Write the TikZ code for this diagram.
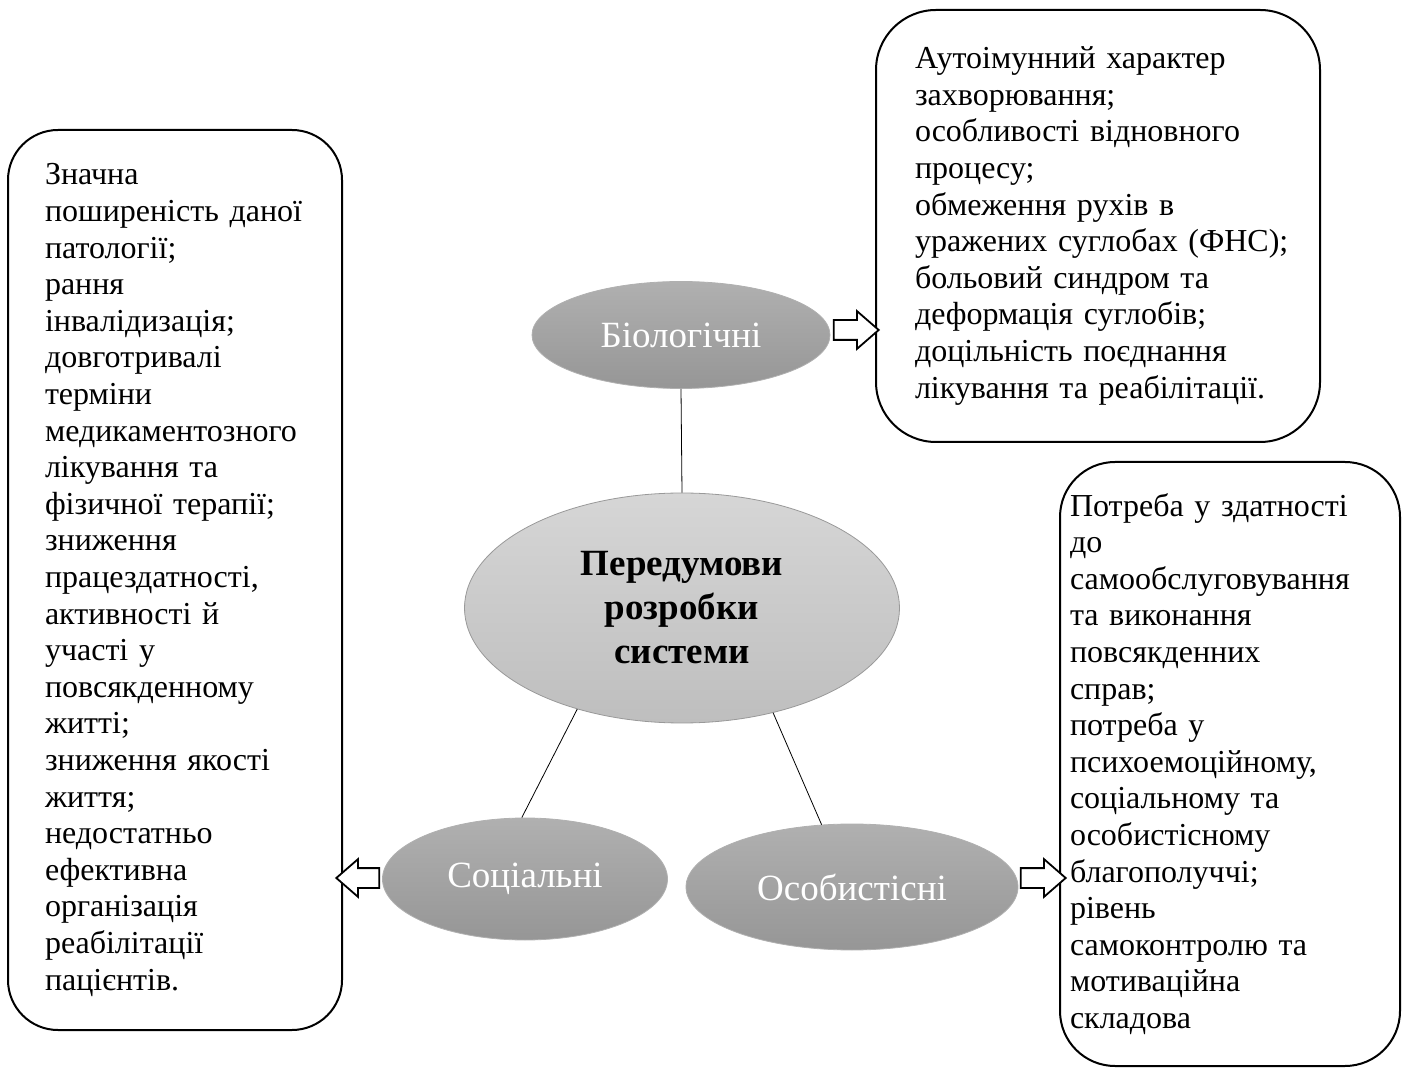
\documentclass[tikz,border=0pt]{standalone}
\usepackage{fontspec}
\setmainfont{Liberation Serif}
\usepackage{xcolor}
\definecolor{ovaltop}{HTML}{B0B0B0}
\definecolor{ovalbot}{HTML}{969696}
\definecolor{coretop}{HTML}{D6D6D6}
\definecolor{corebot}{HTML}{BEBEBE}
\usepackage{tikz}
\usetikzlibrary{shapes.geometric,shapes.arrows,positioning}

\begin{document}
\begin{tikzpicture}[
  x=0.5pt, y=-0.5pt,
  panel/.style={draw, line width=1pt, align=left, inner ysep=0pt,
                font=\fontsize{16}{18.3}\selectfont},
  oval/.style={ellipse, top color=ovaltop, bottom color=ovalbot, draw=ovaltop,
               text=white, font=\fontsize{18.5}{21}\selectfont, inner sep=0pt},
  core/.style={ellipse, top color=coretop, bottom color=corebot, draw=gray!80,
               align=center, font=\fontsize{18.5}{22}\selectfont\bfseries, inner sep=0pt},
  blockarr/.style={single arrow, draw, fill=white, line width=0.9pt, inner xsep=0pt,
                   inner ysep=4.5pt, minimum width=0pt, single arrow head extend=4.5pt,
                   single arrow tip angle=82, single arrow head indent=0pt}
]
\useasboundingbox (0,0) rectangle (1408,1068);

% ovals
\node[core, minimum width=217.5pt, minimum height=115pt] (c) at (682,608)
  {Передумови\\розробки\\системи};
\node[oval, minimum width=149pt, minimum height=53.5pt] (bio) at (681,335) {Біологічні};
\node[oval, minimum width=142.5pt, minimum height=61pt] (soc) at (525,879) {Соціальні};
\node[oval, minimum width=166pt, minimum height=63pt] (osob) at (852,887) {Особистісні};

% text panels
\node[panel, rounded corners=25pt, minimum width=167pt, minimum height=450pt,
      inner xsep=18.5pt, text width=130pt] (socBox) at (175,580)
  {Значна\\поширеність даної\\патології;\\рання\\інвалідизація;\\довготривалі\\терміни\\медикаментозного\\лікування та\\фізичної терапії;\\зниження\\працездатності,\\активності й\\участі у\\повсякденному\\житті;\\зниження якості\\життя;\\недостатньо\\ефективна\\організація\\реабілітації\\пацієнтів.};
\node[panel, rounded corners=30pt, minimum width=222pt, minimum height=216pt,
      inner xsep=19.5pt, text width=183pt] (bioBox) at (1098,226)
  {Аутоімунний характер\\захворювання;\\особливості відновного\\процесу;\\обмеження рухів в\\\mbox{уражених суглобах (ФНС);}\\больовий синдром та\\деформація суглобів;\\доцільність поєднання\\\mbox{лікування та реабілітації.}};
\node[panel, rounded corners=27.5pt, minimum width=170pt, minimum height=302pt,
      inner xsep=5pt, text width=160pt] (osobBox) at (1230,764)
  {Потреба у здатності\\до\\самообслуговування\\та виконання\\повсякденних\\справ;\\потреба у\\психоемоційному,\\соціальному та\\особистісному\\благополуччі;\\рівень\\самоконтролю та\\мотиваційна\\складова};

% block arrows
\node[blockarr, minimum height=22.5pt] (bioArr) at (850.5,330) {};
\node[blockarr, minimum height=21.5pt, shape border rotate=180] (socArr) at (363.5,878) {};
\node[blockarr, minimum height=22.5pt] (osobArr) at (1037.5,878) {};

% links
\draw (bio.south) -- (c.north);
\draw (c.224) -- (soc.93);
\draw (c.311) -- (osob.116);
\end{tikzpicture}
\end{document}
